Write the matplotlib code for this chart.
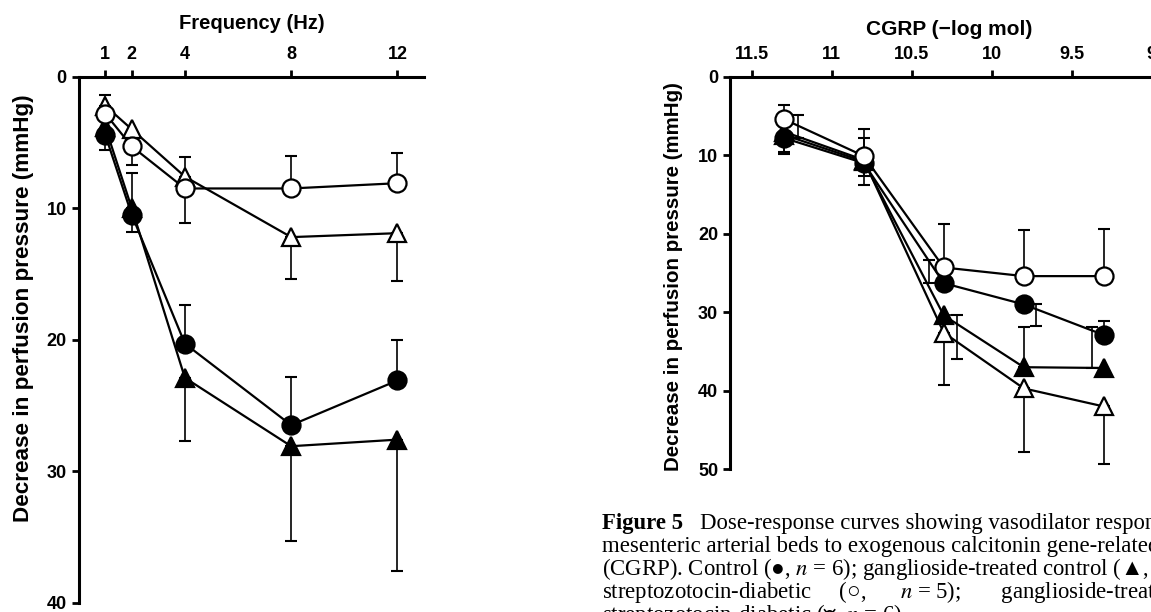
import matplotlib
matplotlib.use("Agg")
import matplotlib.pyplot as plt

plt.rcParams['font.family'] = ['Liberation Sans', 'DejaVu Sans']
plt.rcParams['mathtext.fontset'] = 'stix'

# Left panel: nerve stimulation, decrease in perfusion pressure (mmHg)
freq = [1, 2, 4, 8, 12]
freq_ticks = [1, 2, 4, 8, 12]
freq_open_circle = [2.8, 5.3, 8.5, 8.5, 8.1]
freq_open_tri = [2.2, 4.0, 7.6, 12.2, 11.9]
freq_filled_circle = [4.4, 10.5, 20.3, 26.5, 23.1]
freq_filled_tri = [3.8, 10.0, 22.9, 28.1, 27.6]
# error bar end values (None = no bar drawn)
freq_open_circle_err = [None, 6.7, 11.1, 6.0, 5.8]
freq_open_tri_err = [1.4, None, 6.1, 15.4, 15.5]
freq_filled_circle_err = [5.6, 7.3, 17.4, 22.8, 20.0]
freq_filled_tri_err = [None, 11.8, 27.7, 35.3, 37.6]

# Right panel: CGRP dose-response
dose = [11.3, 10.8, 10.3, 9.8, 9.3]
dose_ticks = [11.5, 11, 10.5, 10, 9.5, 9]
dose_ticklabels = ['11.5', '11', '10.5', '10', '9.5', '9']
dose_open_circle = [5.4, 10.1, 24.3, 25.4, 25.4]
dose_filled_circle = [7.8, 11.0, 26.3, 29.0, 32.9]
dose_filled_tri = [7.4, 10.8, 30.4, 37.0, 37.1]
dose_open_tri = [7.0, 10.6, 32.6, 39.7, 42.0]
dose_open_circle_err = [3.6, 6.7, 18.7, 19.5, 19.4]
dose_filled_circle_err = [4.9, 7.8, 23.4, 31.8, 31.1]
dose_filled_tri_err = [9.6, 13.8, 35.9, 31.9, 31.9]
dose_open_tri_err = [9.8, 12.7, 39.3, 47.8, 49.3]

# sideways shift of some bars in the right panel (printed offset to avoid overlap)
shift_filled_circle = [-0.09, 0, 0.09, -0.075, 0]
shift_filled_tri = [0, 0, -0.08, 0, 0.075]

LW = 1.6
MS = 13


def draw_err(ax, xs, ys, ends, shifts=None):
    for i, (x, y, e) in enumerate(zip(xs, ys, ends)):
        if e is None:
            continue
        dx = shifts[i] if shifts else 0
        lo = max(0, y - e)
        hi = max(0, e - y)
        ax.errorbar(x + dx, y, yerr=[[lo], [hi]], fmt='none', ecolor='black',
                    elinewidth=1.2, capsize=4, capthick=1.5, zorder=1)
        if dx:
            ax.plot([x, x + dx], [y, y], color='black', lw=1.2, zorder=1)


def series(ax, xs, ys, marker, fill):
    ax.plot(xs, ys, color='black', lw=LW, marker=marker, ms=MS,
            mfc=fill, mec='black', mew=1.6, zorder=3, clip_on=False)


def style_axes(ax):
    ax.spines['bottom'].set_visible(False)
    ax.spines['right'].set_visible(False)
    ax.spines['top'].set_linewidth(2.2)
    ax.spines['left'].set_linewidth(2.2)
    ax.xaxis.tick_top()
    ax.xaxis.set_label_position('top')
    ax.tick_params(direction='out', length=5, width=2, labelsize=13)
    ax.tick_params(axis='x', pad=5)
    ax.tick_params(axis='y', pad=3.5)
    for lab in ax.get_xticklabels() + ax.get_yticklabels():
        lab.set_fontweight('bold')


fig = plt.figure(figsize=(11.51, 6.12), dpi=100)

# ---- left panel ----
ax1 = fig.add_axes([0.0683, 0.0152, 0.3001, 0.8595])
draw_err(ax1, freq, freq_open_circle, freq_open_circle_err)
draw_err(ax1, freq, freq_open_tri, freq_open_tri_err)
draw_err(ax1, freq, freq_filled_circle, freq_filled_circle_err)
draw_err(ax1, freq, freq_filled_tri, freq_filled_tri_err)
series(ax1, freq, freq_filled_tri, '^', 'black')
series(ax1, freq, freq_filled_circle, 'o', 'black')
series(ax1, freq, freq_open_tri, '^', 'white')
series(ax1, freq, freq_open_circle, 'o', 'white')
ax1.set_xlim(0, 13)
ax1.set_ylim(40, 0)
ax1.set_xticks(freq_ticks)
ax1.set_yticks([0, 10, 20, 30, 40])
style_axes(ax1)
ax1.set_xlabel('Frequency (Hz)', fontsize=14.5, fontweight='bold', labelpad=12)
ax1.set_ylabel('Decrease in perfusion pressure (mmHg)', fontsize=16.2, fontweight='bold')
ax1.yaxis.set_label_coords(-0.128, 0.559)

# ---- right panel ----
ax2 = fig.add_axes([0.6342, 0.2332, 0.3804, 0.6415])
draw_err(ax2, dose, dose_open_circle, dose_open_circle_err)
draw_err(ax2, dose, dose_filled_circle, dose_filled_circle_err, shift_filled_circle)
draw_err(ax2, dose, dose_filled_tri, dose_filled_tri_err, shift_filled_tri)
draw_err(ax2, dose, dose_open_tri, dose_open_tri_err)
series(ax2, dose, dose_open_tri, '^', 'white')
series(ax2, dose, dose_filled_tri, '^', 'black')
series(ax2, dose, dose_filled_circle, 'o', 'black')
series(ax2, dose, dose_open_circle, 'o', 'white')
ax2.set_xlim(11.636, 8.9)
ax2.set_ylim(50, 0)
ax2.set_xticks(dose_ticks)
ax2.set_xticklabels(dose_ticklabels)
ax2.set_yticks([0, 10, 20, 30, 40, 50])
style_axes(ax2)
ax2.set_xlabel('CGRP (\u2212log mol)', fontsize=15, fontweight='bold', labelpad=8)
ax2.set_ylabel('Decrease in perfusion pressure (mmHg)', fontsize=14.8, fontweight='bold')
ax2.yaxis.set_label_coords(-0.108, 0.492)

# ---- caption (runs off the right edge like the scan) ----
serif = ['Liberation Serif', 'DejaVu Serif']
cap_x = 602 / 1151
cap_y = 1 - 529 / 612
step = 23 / 612
fig.text(cap_x, cap_y, 'Figure 5', family=serif, fontsize=16.4, fontweight='bold', va='baseline')
fig.text(700 / 1151, cap_y, 'Dose-response curves showing vasodilator responses of',
         family=serif, fontsize=16.4, va='baseline')
caption_lines = [
    'mesenteric arterial beds to exogenous calcitonin gene-related peptide',
    '(CGRP). Control (\u25cf, $n$ = 6); ganglioside-treated control (\u25b2, $n$ = 6);',
    'streptozotocin-diabetic     (\u25cb,      $n$ = 5);       ganglioside-treated',
    'streptozotocin-diabetic (\u25b3, $n$ = 6).',
]
for i, line in enumerate(caption_lines):
    fig.text(cap_x, cap_y - (i + 1) * step, line, family=serif, fontsize=16.4, va='baseline')

fig.savefig('out.png', dpi=100)
